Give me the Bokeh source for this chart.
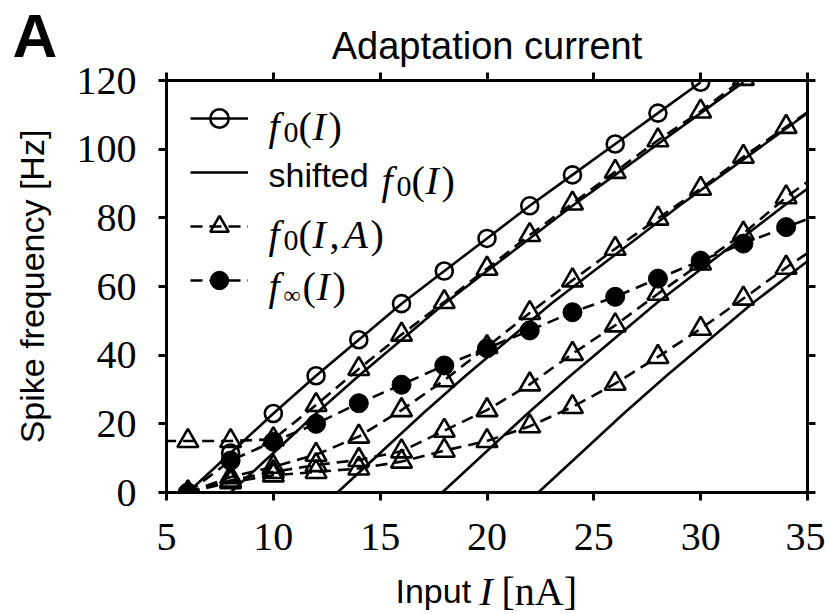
import math as _m
from bokeh.plotting import figure
from bokeh.layouts import column, row
from bokeh.models import Range1d, FixedTicker, LinearAxis, Label, Legend, LegendItem
from bokeh.embed import file_html
from bokeh.resources import INLINE

# ---------------- data ----------------
I_f0 = [6, 8, 10, 12, 14, 16, 18, 20, 22, 24, 26, 28, 30]
f0 = [0, 11.5, 23, 34, 44.5, 55, 64.5, 74, 83.5, 92.5, 101.5, 110.5, 119.5]

# horizontal shift of f0(I) for each of the four "shifted f0(I)" curves [nA]
shifts = [2.0, 7.0, 11.9, 16.4]

I_A1 = [4, 6, 8, 10, 12, 14, 16, 18, 20, 22, 24, 26, 28, 30, 32]
fA1 = [15, 15, 15, 15.5, 25.5, 36, 46, 55.5, 65.2, 75, 84.2, 93.4, 102.6, 111, 120.5]

I_A = [6, 8, 10, 12, 14, 16, 18, 20, 22, 24, 26, 28, 30, 32, 34, 36]
fA2 = [0, 4.5, 7.5, 11, 16.3, 24, 32.7, 42.4, 52.3, 61.8, 71, 79.8, 88.5, 97.8, 106.5, 115]
fA3 = [0, 3.5, 6, 8, 9.5, 12, 18, 24, 31.5, 40.4, 48.7, 57.9, 66.7, 75.4, 86, 95]
fA4 = [0, 3, 5, 6, 7, 9, 12.2, 15, 19.3, 24.9, 31.7, 39.5, 47.7, 56.5, 65.5, 74]

I_inf = [6, 8, 10, 12, 14, 16, 18, 20, 22, 24, 26, 28, 30, 32, 34, 36]
f_inf = [0, 9.3, 14.8, 20, 26, 31.4, 37, 42, 47.2, 52.5, 57, 62.3, 67.5, 72.5, 77.3, 82]

x_ticks = [5, 10, 15, 20, 25, 30, 35]
y_ticks = [0, 20, 40, 60, 80, 100, 120]

# ---------------- layout geometry (page pixels) ----------------
W, H = 825, 614
LEFT_W = 60                      # strip holding the panel letter and the y label
L, R, T, B = 166, 807, 80, 492   # frame edges on the page
MAIN_W = W - LEFT_W
MAIN_BOT = 76
MAIN_H = T + (B - T) + MAIN_BOT
FOOT_H = H - MAIN_H
FOOT_Y0 = MAIN_H

SERIF = "Liberation Serif"
SANS = "Liberation Sans"


def no_align(fig):
    try:
        fig.frame_align = False
    except Exception:
        pass


def text_strip(width, height):
    f = figure(width=width, height=height, x_range=Range1d(0, width), y_range=Range1d(0, height),
               output_backend="svg", toolbar_location=None, x_axis_type=None, y_axis_type=None,
               min_border=0)
    f.outline_line_color = None
    f.grid.visible = False
    f.background_fill_color = "white"
    f.border_fill_color = "white"
    no_align(f)
    return f


def put(fig, x0, y0, h, text, cx, cy, font, size, style="normal", align="left", angle=0.0):
    fig.add_layout(Label(x=cx - x0, y=h - (cy - y0), text=text, text_font=font,
                         text_font_size=f"{size}px", text_font_style=style,
                         text_align=align, text_baseline="middle", text_color="black",
                         angle=angle))


# ---------------- main figure ----------------
p = figure(width=MAIN_W, height=MAIN_H, x_range=Range1d(5, 35), y_range=Range1d(0, 120),
           output_backend="svg", toolbar_location=None,
           min_border_left=L - LEFT_W, min_border_right=W - R, min_border_top=T,
           min_border_bottom=MAIN_BOT)
no_align(p)
p.grid.visible = False
p.outline_line_color = "black"
p.outline_line_width = 3
p.background_fill_color = "white"
p.border_fill_color = "white"

p.title.text = "Adaptation current"
p.title.text_font = SANS
p.title.text_font_size = "38px"
p.title.text_font_style = "normal"
p.title.text_color = "black"
p.title.align = "center"
p.title.standoff = 11


def style_axis(ax, ticks, show_labels=True, standoff=5):
    ax.ticker = FixedTicker(ticks=ticks)
    ax.axis_line_width = 3
    ax.axis_line_color = "black"
    ax.major_tick_line_width = 3
    ax.major_tick_line_color = "black"
    ax.major_tick_out = 8
    ax.major_tick_in = 0
    ax.minor_tick_line_color = None
    ax.major_label_standoff = standoff
    if show_labels:
        ax.major_label_text_font = SERIF
        ax.major_label_text_font_size = "40px"
        ax.major_label_text_color = "black"
    else:
        ax.major_label_overrides = {t: "" for t in ticks}
        ax.major_label_text_font_size = "1px"


style_axis(p.xaxis[0], x_ticks, True, 23)
style_axis(p.yaxis[0], y_ticks, True, 22)

top_ax = LinearAxis()
style_axis(top_ax, x_ticks, False, 0)
p.add_layout(top_ax, "above")
right_ax = LinearAxis()
style_axis(right_ax, y_ticks, False, 0)
p.add_layout(right_ax, "right")

LW = 2.6
DASH = "12 7"

# f0(I): open circles, solid
r_f0_line = p.line(I_f0, f0, line_color="black", line_width=LW)
r_f0_pts = p.scatter(I_f0, f0, marker="circle", size=17, fill_color=None,
                     line_color="black", line_width=2.6)

# shifted f0(I): solid lines without markers
shift_lines = []
for s in shifts:
    xs = [i + s for i in I_f0]
    shift_lines.append(p.line(xs, f0, line_color="black", line_width=LW))

# f0(I, A): open triangles, dashed
tri = []
for xs, ys in [(I_A1, fA1), (I_A, fA2), (I_A, fA3), (I_A, fA4)]:
    rl = p.line(xs, ys, line_color="black", line_width=LW, line_dash=DASH)
    rs = p.scatter(xs, ys, marker="triangle", size=21, fill_color=None,
                   line_color="black", line_width=2.6)
    tri.append((rl, rs))

# f_inf(I): filled circles, dashed
r_inf_line = p.line(I_inf, f_inf, line_color="black", line_width=LW, line_dash=DASH)
r_inf_pts = p.scatter(I_inf, f_inf, marker="circle", size=19, fill_color="black",
                      line_color="black", line_width=1)

# ---------------- legend (glyph samples; texts are drawn as labels) ----------------
legend = Legend(items=[
    LegendItem(label=" ", renderers=[r_f0_line, r_f0_pts]),
    LegendItem(label=" ", renderers=[shift_lines[0]]),
    LegendItem(label=" ", renderers=[tri[0][0], tri[0][1]]),
    LegendItem(label=" ", renderers=[r_inf_line, r_inf_pts]),
])
GH, SP = 46, 8
legend.glyph_width = 58
legend.glyph_height = GH
legend.label_height = GH
legend.label_text_font_size = "4px"
legend.spacing = SP
legend.padding = 0
legend.margin = 0
legend.border_line_color = None
legend.background_fill_alpha = 0
rows_h = 4 * GH + 3 * SP
legend_top = 118 - GH // 2
legend.location = (190 - L, B - legend_top - rows_h)
p.add_layout(legend)


def lab_main(text, cx, cy, font, size, style="normal"):
    p.add_layout(Label(x=cx - L, y=B - cy, x_units="screen", y_units="screen", text=text,
                       text_font=font, text_font_size=f"{size}px", text_font_style=style,
                       text_align="left", text_baseline="middle", text_color="black"))


def math(parts, x0, cy):
    for text, style, size, dx, dy in parts:
        lab_main(text, x0 + dx, cy + dy, SERIF, size, style)


f0I = [("f", "italic", 40, 0, 0), ("0", "normal", 30, 15, 6), ("(", "normal", 40, 30, 0),
       ("I", "italic", 40, 44, 0), (")", "normal", 40, 60, 0)]
math(f0I, 268, 126)
lab_main("shifted", 268, 174, SANS, 34)
math(f0I, 381, 180)
math([("f", "italic", 40, 0, 0), ("0", "normal", 30, 15, 6), ("(", "normal", 40, 30, 0),
      ("I", "italic", 40, 44, 0), (",", "normal", 40, 61, 0), ("A", "italic", 40, 75, 0),
      (")", "normal", 40, 102, 0)], 268, 234)
math([("f", "italic", 40, 0, 0), ("\u221e", "normal", 24, 15, 8), ("(", "normal", 40, 34, 0),
      ("I", "italic", 40, 48, 0), (")", "normal", 40, 64, 0)], 268, 286)

# ---------------- left strip: panel letter and y axis label ----------------
left = text_strip(LEFT_W, H)
put(left, 0, 0, H, "A", 12, 35, SANS, 62, "bold")
put(left, 0, 0, H, "Spike frequency [Hz]", 31, 286, SANS, 34, align="center", angle=_m.pi / 2)

# ---------------- footer: x axis label "Input I [nA]" ----------------
foot = text_strip(MAIN_W, FOOT_H)
FOOT_CY = FOOT_Y0 + FOOT_H / 2
put(foot, LEFT_W, FOOT_Y0, FOOT_H, "Input", 395, FOOT_CY - 1, SANS, 34)
put(foot, LEFT_W, FOOT_Y0, FOOT_H, "I", 479, FOOT_CY, SERIF, 40, "italic")
put(foot, LEFT_W, FOOT_Y0, FOOT_H, "[nA]", 501, FOOT_CY, SERIF, 40)

layout = row(left, column(p, foot, spacing=0), spacing=0)
open("out.html", "w").write(file_html(layout, INLINE))
